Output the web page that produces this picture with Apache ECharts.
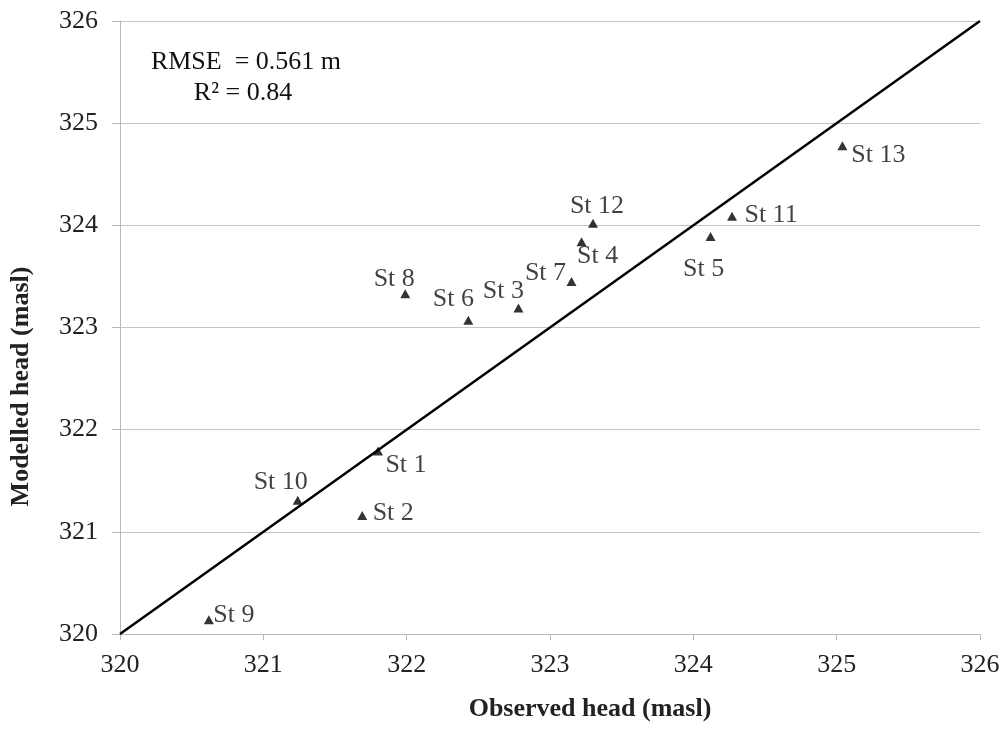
<!DOCTYPE html>
<html>
<head>
<meta charset="utf-8">
<script src="https://cdn.jsdelivr.net/npm/echarts@6/dist/echarts.min.js"></script>
<style>html,body{margin:0;padding:0;background:#fff;}#c{width:1005px;height:729px;}</style>
</head>
<body>
<div id="c"></div>
<script>
// Data
var stations = ['St 1','St 2','St 3','St 4','St 5','St 6','St 7','St 8','St 9','St 10','St 11','St 12','St 13'];
var observed = [321.80, 321.69, 322.78, 323.22, 324.12, 322.43, 323.15, 321.99, 320.62, 321.24, 324.27, 323.30, 325.04];
var modelled = [321.79, 321.16, 323.19, 323.84, 323.89, 323.07, 323.45, 323.33, 320.14, 321.31, 324.09, 324.02, 324.78];
var lineX = [320, 326];
var axisTicks = [320, 321, 322, 323, 324, 325, 326];
var statsLines = ['RMSE  = 0.561 m', 'R\u00B2 = 0.84'];

// label placement (style only): offset of label centre from marker centre, px
var labelOffsets = {
  'St 1': [28, 14], 'St 2': [31, -2], 'St 3': [-15, -17], 'St 4': [16, 14],
  'St 5': [-7, 33], 'St 6': [-15, -21], 'St 7': [-26, -8], 'St 8': [-11, -15],
  'St 9': [25, -5], 'St 10': [-17, -18], 'St 11': [39, -1], 'St 12': [4, -17],
  'St 13': [36, 10]
};

var font = '"Liberation Serif", "Times New Roman", serif';
var pts = stations.map(function (n, i) {
  return {
    name: n,
    value: [observed[i], modelled[i]],
    label: { offset: labelOffsets[n] }
  };
});

var chart = echarts.init(document.getElementById('c'));
chart.setOption({
  animation: false,
  backgroundColor: '#fff',
  grid: { left: 113, right: 25, top: 21, bottom: 95, containLabel: false },
  xAxis: {
    type: 'value', min: axisTicks[0], max: axisTicks[axisTicks.length - 1], interval: 1,
    name: 'Observed head (masl)', nameLocation: 'middle', nameGap: 62,
    nameTextStyle: { fontFamily: font, fontSize: 26, fontWeight: 'bold', color: '#222', padding: [0, 0, 0, 80] },
    axisLine: { show: true, lineStyle: { color: '#b8b8b8', width: 1 } },
    axisTick: { show: true, length: 6, inside: false, lineStyle: { color: '#b8b8b8' } },
    axisLabel: { fontFamily: font, fontSize: 26, color: '#222', margin: 18 },
    splitLine: { show: false }
  },
  yAxis: {
    type: 'value', min: axisTicks[0], max: axisTicks[axisTicks.length - 1], interval: 1,
    name: 'Modelled head (masl)', nameLocation: 'middle', nameGap: 86, nameRotate: 90,
    nameTextStyle: { fontFamily: font, fontSize: 26, fontWeight: 'bold', color: '#222', padding: [0, 118, 0, 0] },
    axisLine: { show: true, lineStyle: { color: '#b8b8b8', width: 1 } },
    axisTick: { show: true, length: 8, lineStyle: { color: '#b8b8b8' } },
    axisLabel: { fontFamily: font, fontSize: 26, color: '#222', margin: 22 },
    splitLine: { show: true, lineStyle: { color: '#c4c4c4', width: 1 } }
  },
  series: [
    {
      type: 'line',
      data: lineX.map(function (v) { return [v, v]; }),
      showSymbol: false, symbol: 'none',
      lineStyle: { color: '#000', width: 2.5 },
      silent: true, z: 2
    },
    {
      type: 'scatter',
      data: pts,
      symbol: 'triangle', symbolSize: [10, 9],
      itemStyle: { color: '#000' },
      label: {
        show: true, position: 'inside', formatter: '{b}',
        fontFamily: font, fontSize: 26, color: '#111',
        align: 'center', verticalAlign: 'middle'
      },
      z: 3
    }
  ],
  graphic: [
    { type: 'text', z: 10,
      style: { text: statsLines[0], x: 246, y: 62, textAlign: 'center', textVerticalAlign: 'middle',
               font: '26px ' + font, fill: '#111' } },
    { type: 'text', z: 10,
      style: { text: statsLines[1], x: 243, y: 93, textAlign: 'center', textVerticalAlign: 'middle',
               font: '26px ' + font, fill: '#111' } }
  ]
});
</script>
</body>
</html>
